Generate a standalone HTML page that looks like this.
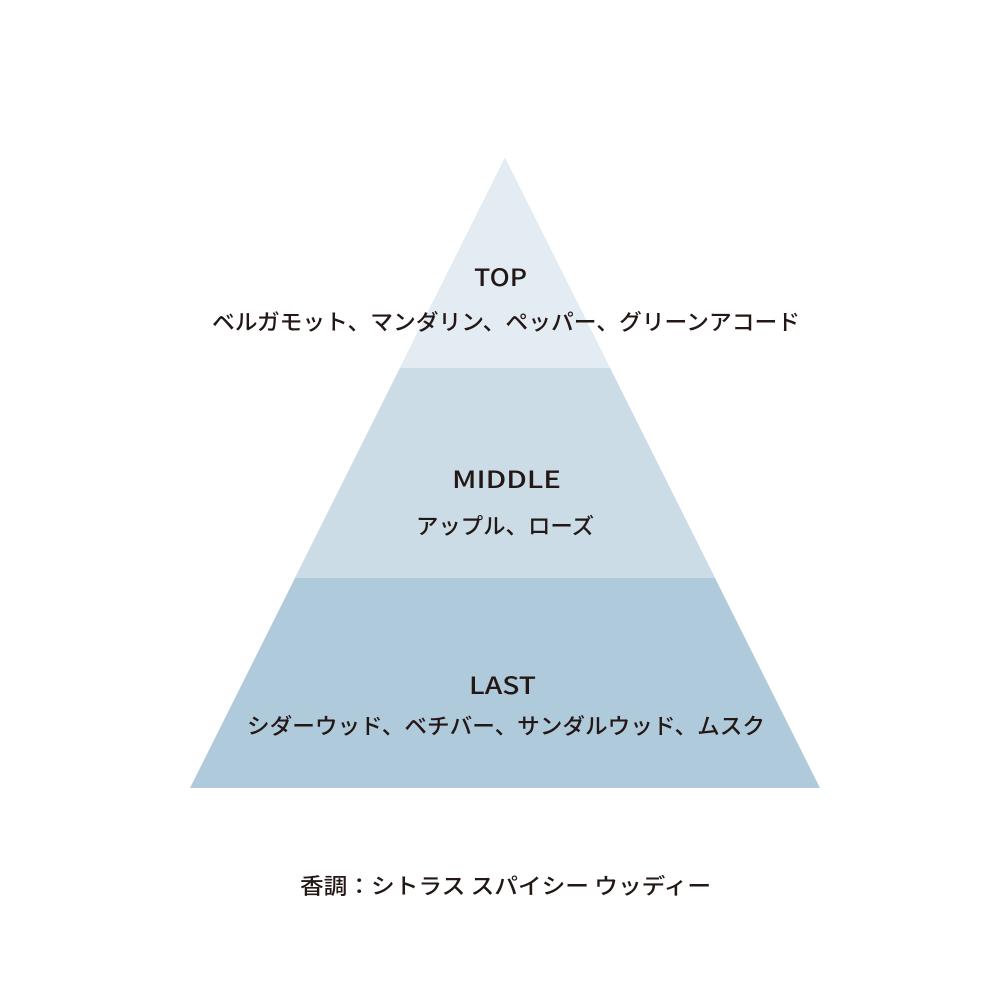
<!DOCTYPE html>
<html><head><meta charset="utf-8"><style>html,body{margin:0;padding:0;background:#fff}</style></head>
<body>
<svg width="1000" height="1000" viewBox="0 0 1000 1000" xmlns="http://www.w3.org/2000/svg">
<rect width="1000" height="1000" fill="#fff"/>
<polygon points="505,158 190,788 820,788" fill="#afcadb"/>
<polygon points="505,158 295,578 715,578" fill="#cbdce7"/>
<polygon points="505,158 400,368 610,368" fill="#e3ecf3"/>
<g font-family="'Noto Sans CJK JP','Liberation Sans',sans-serif" fill="#231815" font-weight="500">
<text x="474" y="286" font-size="24" textLength="53" lengthAdjust="spacingAndGlyphs">TOP</text>
<text x="212" y="330" font-size="22" textLength="588" lengthAdjust="spacingAndGlyphs">ベルガモット、マンダリン、ペッパー、グリーンアコード</text>
<text x="452" y="488" font-size="24" textLength="109" lengthAdjust="spacingAndGlyphs">MIDDLE</text>
<text x="416" y="534" font-size="22" textLength="178" lengthAdjust="spacingAndGlyphs">アップル、ローズ</text>
<text x="469" y="694" font-size="24" textLength="67" lengthAdjust="spacingAndGlyphs">LAST</text>
<text x="247" y="734" font-size="22" textLength="518" lengthAdjust="spacingAndGlyphs">シダーウッド、ベチバー、サンダルウッド、ムスク</text>
<text x="300" y="894" font-size="22" textLength="411" lengthAdjust="spacingAndGlyphs">香調：シトラス スパイシー ウッディー</text>
</g>
</svg>
</body></html>
